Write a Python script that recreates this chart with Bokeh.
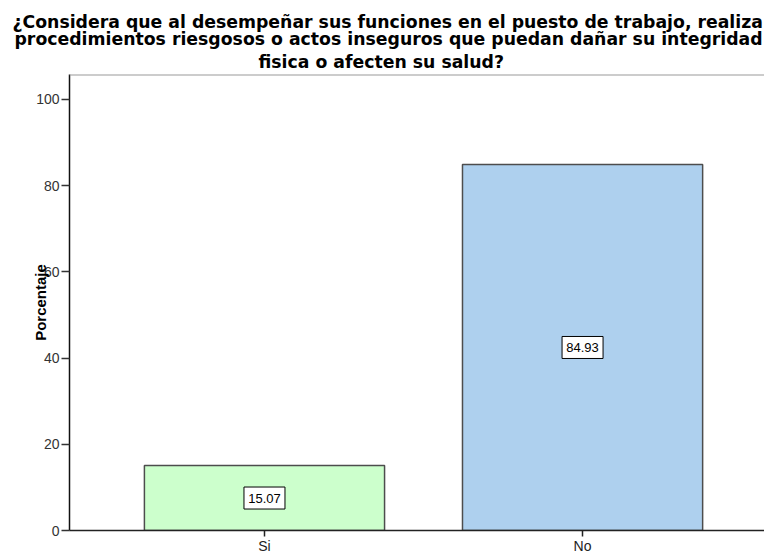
from bokeh.plotting import figure
from bokeh.models import ColumnDataSource, Span, FixedTicker, Title, Range1d
from bokeh.core.properties import value
from bokeh.embed import file_html
from bokeh.resources import INLINE

# ---- data ----
categories = ["Si", "No"]
percentages = [15.07, 84.93]
bar_colors = ["#ccffcc", "#aed0ee"]
y_ticks = [0, 20, 40, 60, 80, 100]
title_lines = [
    "¿Considera que al desempeñar sus funciones en el puesto de trabajo, realiza",
    "procedimientos riesgosos o actos inseguros que puedan dañar su integridad",
    "fisica o afecten su salud?",
]
y_label = "Porcentaje"

# ---- derived ----
xs = list(range(len(categories)))
src = ColumnDataSource(dict(
    x=xs,
    top=percentages,
    mid=[v / 2 for v in percentages],
    label=["%.2f" % v for v in percentages],
    color=bar_colors,
))

FONT = "Liberation Sans"
Y_END = 105.8

p = figure(width=764, height=556, output_backend="svg", toolbar_location=None,
           x_range=Range1d(-0.613, 1.572), y_range=Range1d(0, Y_END),
           min_border_left=69, min_border_right=0, min_border_bottom=0, min_border_top=74)

# title lines: left-aligned titles shifted so each line sits centred on the canvas
title_offsets = [-57, -55, 189]
title_standoffs = [-5, -5, 6]
for line, off, so in reversed(list(zip(title_lines, title_offsets, title_standoffs))):
    p.add_layout(Title(text=line, align="left", offset=off, standoff=so,
                       text_font="DejaVu Sans", text_font_size="17.3px",
                       text_font_style="bold", text_color="#000000"), "above")

p.vbar(x="x", top="top", width=0.755, bottom=0, source=src, fill_color="color",
       line_color="#4d4d4d", line_width=1.5)

p.rect(x="x", y="mid", width=41, height=22, width_units="screen", height_units="screen",
       source=src, fill_color="white", line_color="#000000", line_width=1)
p.text(x="x", y="mid", text="label", source=src, text_align="center",
       text_baseline="middle", text_font=value(FONT), text_font_size="13px",
       text_color="#000000")

p.add_layout(Span(location=Y_END, dimension="width", line_color="#999999", line_width=2))

p.grid.visible = False
p.outline_line_color = None
p.background_fill_color = "white"
p.border_fill_color = "white"

# x axis
xa = p.xaxis[0]
xa.ticker = FixedTicker(ticks=xs)
xa.major_label_overrides = {i: c for i, c in zip(xs, categories)}
xa.major_tick_out = 6
xa.major_tick_in = 0
xa.minor_tick_out = 0
xa.minor_tick_in = 0
xa.major_label_standoff = 1
xa.major_label_text_font = FONT
xa.major_label_text_font_size = "14px"
xa.major_label_text_color = "#222222"
xa.axis_line_color = "#222222"
xa.axis_line_width = 1.5
xa.major_tick_line_color = "#222222"
xa.major_tick_line_width = 1.5

# y axis
ya = p.yaxis[0]
ya.ticker = FixedTicker(ticks=y_ticks)
ya.major_tick_out = 8
ya.major_tick_in = 0
ya.minor_tick_out = 0
ya.minor_tick_in = 0
ya.major_label_standoff = 2
ya.major_label_text_font = FONT
ya.major_label_text_font_size = "14px"
ya.major_label_text_color = "#333333"
ya.axis_line_color = "#111111"
ya.axis_line_width = 1.5
ya.major_tick_line_color = "#333333"
ya.major_tick_line_width = 1.5
ya.axis_label = y_label
ya.axis_label_text_font = FONT
ya.axis_label_text_font_size = "15px"
ya.axis_label_text_font_style = "bold"
ya.axis_label_text_color = "#000000"
ya.axis_label_standoff = -16

open("out.html", "w").write(file_html(p, INLINE))
